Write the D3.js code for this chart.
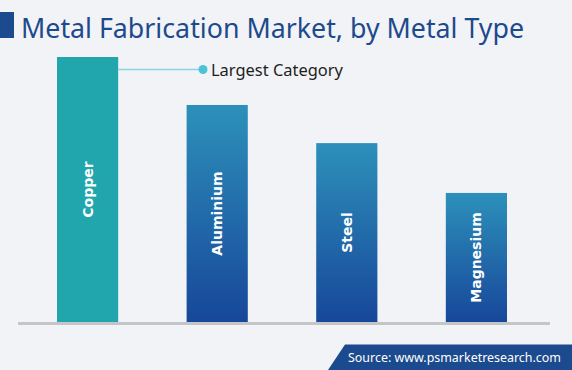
<!DOCTYPE html>
<html><head><meta charset="utf-8">
<script src="https://cdn.jsdelivr.net/npm/d3@7"></script>
<style>html,body{margin:0;padding:0;background:#f2f3f7;}svg{display:block;}</style>
</head><body>
<script>
const categories = ["Copper", "Aluminium", "Steel", "Magnesium"];
const values = [100, 81.9, 67.5, 48.7];
const title = "Metal Fabrication Market, by Metal Type";
const annotation = "Largest Category";
const source = "Source: www.psmarketresearch.com";

const W = 572, H = 370;
const svg = d3.select("body").append("svg").attr("width", W).attr("height", H);
svg.append("rect").attr("width", W).attr("height", H).attr("fill", "#f2f3f7");

const defs = svg.append("defs");
const g = defs.append("linearGradient").attr("id", "blueGrad").attr("x1", 0).attr("y1", 0).attr("x2", 0).attr("y2", 1);
g.append("stop").attr("offset", "0%").attr("stop-color", "#2d90ba");
g.append("stop").attr("offset", "100%").attr("stop-color", "#17479a");

// title
svg.append("rect").attr("x", 0).attr("y", 12).attr("width", 14).attr("height", 26).attr("fill", "#1b4a8e");
svg.append("text").attr("x", 21).attr("y", 38).text(title)
  .attr("font-family", "'Noto Sans', sans-serif").attr("font-size", 27).attr("fill", "#1d4a8c")
  .attr("textLength", 503).attr("lengthAdjust", "spacingAndGlyphs");

const x = d3.scaleBand().domain(categories).range([57, 507]).paddingInner(0.528).paddingOuter(0);
const y = d3.scaleLinear().domain([0, 100]).range([322, 57]);

svg.append("rect").attr("x", 18).attr("y", 322).attr("width", 532).attr("height", 3).attr("fill", "#c4c5c9");

svg.selectAll("rect.bar").data(categories).join("rect").attr("class", "bar")
  .attr("x", d => x(d)).attr("width", x.bandwidth())
  .attr("y", (d, i) => y(values[i])).attr("height", (d, i) => y(0) - y(values[i]))
  .attr("fill", (d, i) => i === 0 ? "#21a6ad" : "url(#blueGrad)");

svg.selectAll("text.lab").data(categories).join("text").attr("class", "lab")
  .attr("transform", (d, i) => `translate(${x(d) + x.bandwidth() / 2 + 5},${(y(values[i]) + y(0)) / 2}) rotate(-90)`)
  .attr("text-anchor", "middle").attr("font-family", "'DejaVu Sans', sans-serif").attr("font-weight", "bold")
  .attr("font-size", 14).attr("fill", "#ffffff").text(d => d);

// annotation
const ay = 69.5;
const x0 = x(categories[0]) + x.bandwidth();
svg.append("line").attr("x1", x0).attr("x2", 202).attr("y1", ay).attr("y2", ay).attr("stroke", "#8dd4e2").attr("stroke-width", 1.5);
svg.append("circle").attr("cx", 203).attr("cy", ay).attr("r", 4.5).attr("fill", "#4dc3da");
svg.append("text").attr("x", 211).attr("y", 75.5).text(annotation)
  .attr("font-family", "'Noto Sans', sans-serif").attr("font-size", 15.5).attr("fill", "#1e1e1e")
  .attr("textLength", 132).attr("lengthAdjust", "spacingAndGlyphs");

// source box
svg.append("path").attr("d", `M345,344.5 L572,344.5 L572,370 L328,370 Z`).attr("fill", "#1b4a8e");
svg.append("text").attr("x", 348).attr("y", 362).text(source)
  .attr("font-family", "'Noto Sans', sans-serif").attr("font-size", 12.5).attr("fill", "#ffffff")
  .attr("textLength", 213).attr("lengthAdjust", "spacingAndGlyphs");
</script>
</body></html>
